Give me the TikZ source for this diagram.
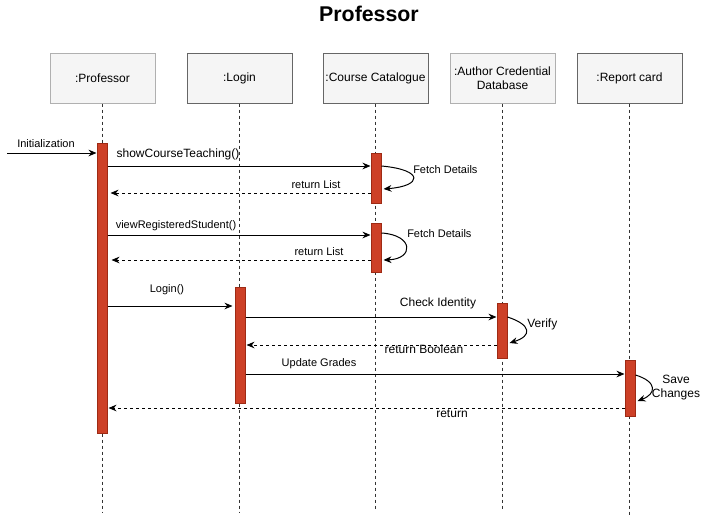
\documentclass[tikz,border=0pt]{standalone}
\usepackage{fontspec}
\setmainfont{Liberation Sans}
\usetikzlibrary{arrows.meta,calc}
\definecolor{boxfill}{HTML}{F5F5F5}
\definecolor{boxline}{HTML}{666666}
\definecolor{boxlight}{HTML}{B0B0B0}
\definecolor{actfill}{HTML}{CD4027}
\definecolor{actline}{HTML}{9E2A14}
\begin{document}
\begin{tikzpicture}[x=0.75pt,y=-0.75pt,
  hdr/.style={draw=boxline, line width=0.75pt, fill=boxfill, minimum width=105*0.75pt, minimum height=50*0.75pt, inner sep=1pt, align=center, font=\fontsize{9}{10.5}\selectfont},
  actbar/.style={draw=actline, line width=0.75pt, fill=actfill, minimum width=10*0.75pt, inner sep=0pt, anchor=north},
  life/.style={line width=0.75pt, draw=black!80, dash pattern=on 2.25pt off 2.25pt},
  msg/.style={line width=0.75pt, -{Stealth[length=6pt,width=5pt]}},
  ret/.style={line width=0.75pt, dash pattern=on 2.25pt off 2.25pt, -{Stealth[length=6pt,width=5pt]}},
  lbl/.style={inner sep=0pt, font=\fontsize{8.25}{9.5}\selectfont},
  lblb/.style={inner sep=0pt, font=\fontsize{9}{10.5}\selectfont}
]
\path[use as bounding box] (0,0) rectangle (710,518);

\node[font=\fontsize{16}{19}\selectfont\bfseries] (title) at (369,14) {Professor};

% headers
\node[hdr, draw=boxlight] (hp) at (102.5,78) {:Professor};
\node[hdr] (hl) at (239.5,78) {:Login};
\node[hdr] (hc) at (375.5,78) {:Course Catalogue};
\node[hdr, draw=boxlight] (ha) at (502.5,78) {:Author Credential\\Database};
\node[hdr] (hr) at (629.5,78) {:Report card};

% lifeline ends
\coordinate (ep) at (102.5,512);
\coordinate (el) at (239.5,513);
\coordinate (ec) at (375.5,510);
\coordinate (ea) at (502.5,511);
\coordinate (er) at (629.5,516);
\draw[life] (hp.south) -- (ep);
\draw[life] (hl.south) -- (el);
\draw[life] (hc.south) -- (ec);
\draw[life] (ha.south) -- (ea);
\draw[life] (hr.south) -- (er);

% activation bars
\node[actbar, minimum height=290*0.75pt] (pb) at (102,143) {};
\node[actbar, minimum height=50*0.75pt] (cb1) at (376,153) {};
\node[actbar, minimum height=49*0.75pt] (cb2) at (376,223) {};
\node[actbar, minimum height=116*0.75pt] (lb) at (240,287) {};
\node[actbar, minimum height=55*0.75pt] (ab) at (502,303) {};
\node[actbar, minimum height=56*0.75pt] (rb) at (630,360) {};

% Initialization
\coordinate (init) at (7,153);
\draw[msg] (init) -- ($(pb.north west)+(0,10)$);
\node[lbl] (linit) at (46,144) {Initialization};

% showCourseTeaching
\draw[msg] ($(pb.north east)+(0,23)$) -- ($(cb1.north west)+(0,13)$);
\node[lblb] (l1) at (178,154) {showCourseTeaching()};
\draw[ret] ($(cb1.north west)+(0,40)$) -- ($(pb.north east)+(3,50)$);
\node[lbl] (l2) at (316,185) {return List};
\draw[msg] ($(cb1.north east)+(0,13)$) .. controls (425,170) and (422,186) .. ($(cb1.north east)+(2,36)$);
\node[lbl, anchor=west] (l3) at (413,170) {Fetch Details};

% viewRegisteredStudent
\draw[msg] ($(pb.north east)+(0,92)$) -- ($(cb2.north west)+(0,12)$);
\node[lbl] (l4) at (176,226) {viewRegisteredStudent()};
\draw[ret] ($(cb2.north west)+(0,37)$) -- ($(pb.north east)+(4,117)$);
\node[lbl] (l5) at (319,252) {return List};
\draw[msg] ($(cb2.north east)+(0,10)$) .. controls (414,235) and (414,259) .. ($(cb2.north east)+(2,37)$);
\node[lbl, anchor=west] (l6) at (407,234) {Fetch Details};

% Login
\draw[msg] ($(pb.north east)+(0,163)$) -- ($(lb.north west)+(-2,19)$);
\node[lbl] (l7) at (167,290) {Login()};
\draw[msg] ($(lb.north east)+(0,30)$) -- ($(ab.north west)+(0,14)$);
\node[lblb] (l8) at (438,303) {Check Identity};
\draw[msg] ($(ab.north east)+(0,14)$) .. controls (532,325) and (532,336) .. ($(ab.north east)+(2,40)$);
\node[lblb, anchor=west] (l9) at (527,324) {Verify};
\draw[ret] ($(ab.north west)+(0,42)$) -- ($(lb.north east)+(1,58)$);
\node[lblb] (l10) at (424,349) {return Boolean};

% Update Grades
\draw[msg] ($(lb.north east)+(0,87)$) -- ($(rb.north west)+(0,14)$);
\node[lbl] (l11) at (319,364) {Update Grades};
\draw[msg] ($(rb.north east)+(0,15)$) .. controls (658,382) and (656,394) .. ($(rb.north east)+(2,41)$);
\node[lblb, align=center] (l12) at (676,388) {Save\\Changes};
\draw[ret] ($(rb.north west)+(0,48)$) -- ($(pb.north east)+(1,265)$);
\node[lblb] (l13) at (452,414) {return};
\end{tikzpicture}
\end{document}
